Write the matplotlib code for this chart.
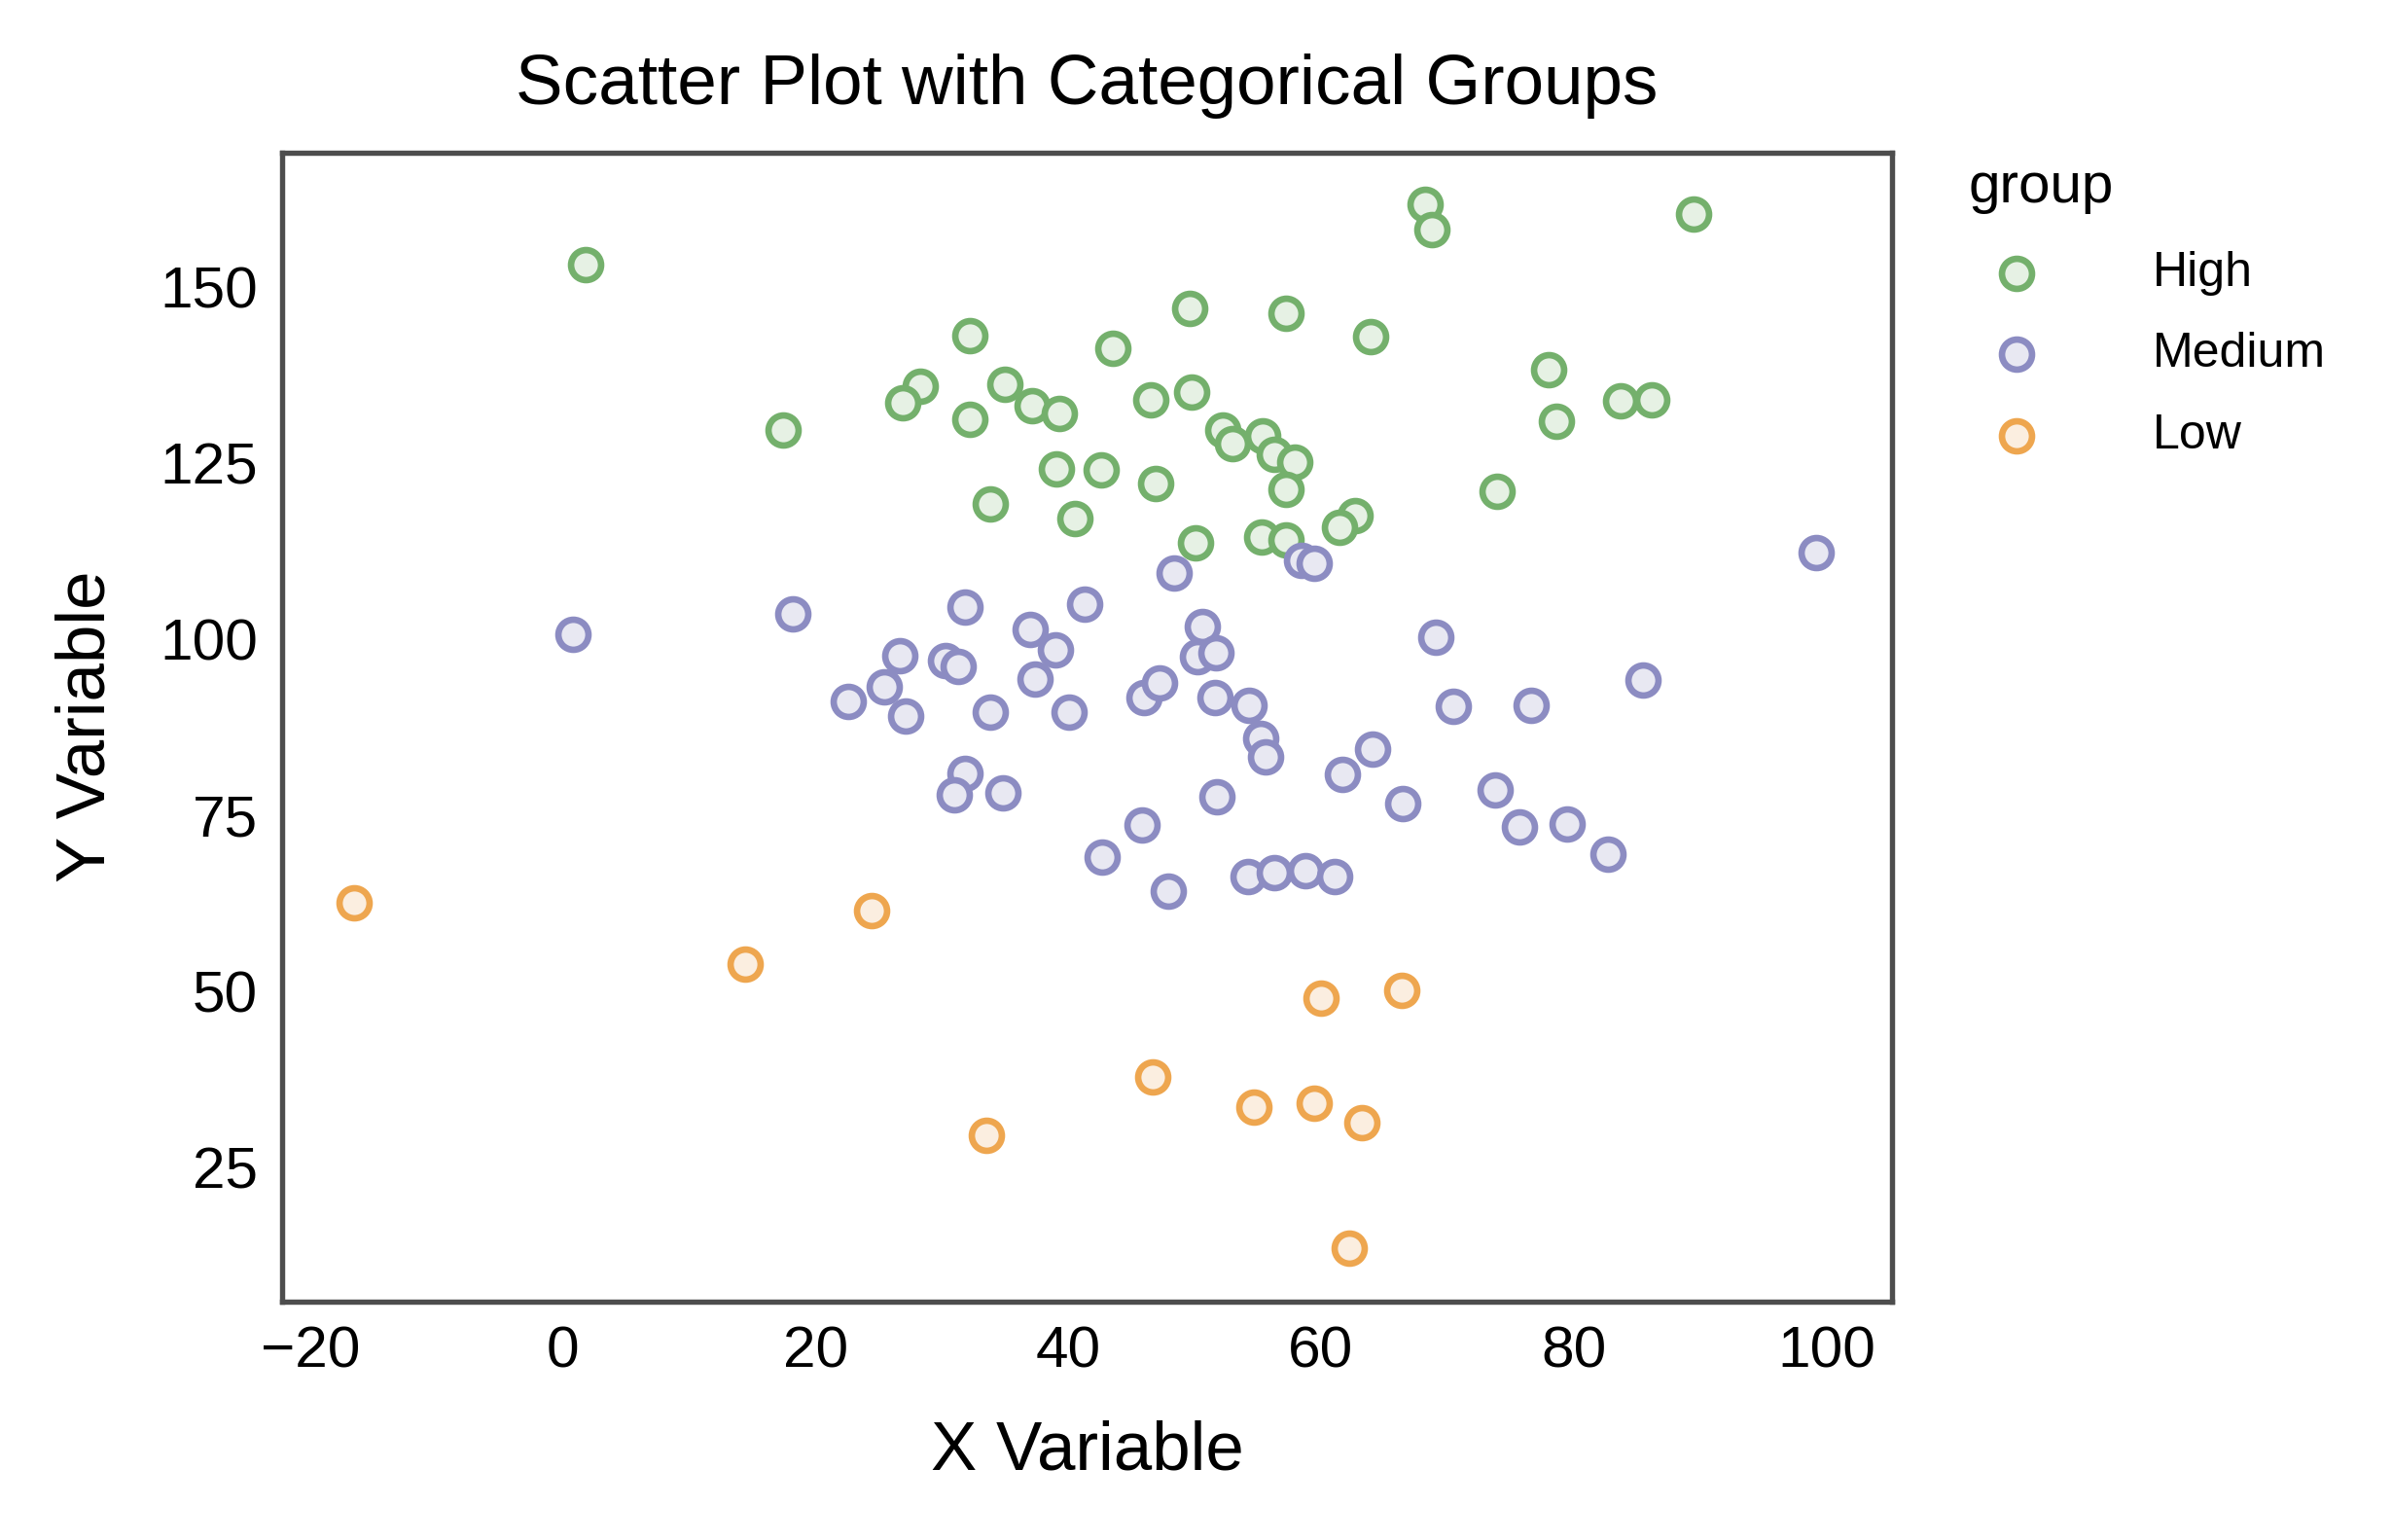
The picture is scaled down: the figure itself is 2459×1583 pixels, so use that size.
import matplotlib
matplotlib.use("Agg")
import matplotlib.pyplot as plt

plt.rcParams.update({"font.family": ["Liberation Sans", "DejaVu Sans"], "font.size": 13})

high_x = [1.8, 68.2, 68.8, 89.5, 49.6, 57.2, 32.2, 63.9, 43.5, 28.3, 35.0, 26.9, 37.1, 39.3,
          46.5, 49.8, 32.2, 78.0, 78.6, 83.7, 86.2, 17.4, 52.2, 53.0, 55.4, 56.3, 57.9, 39.1,
          42.6, 46.9, 57.2, 73.9, 33.8, 40.5, 62.7, 61.5, 55.3, 57.2, 50.1]
high_y = [153.2, 161.7, 158.2, 160.4, 147.0, 146.3, 143.1, 142.9, 141.3, 135.9, 136.1, 133.5,
          133.1, 132.0, 134.0, 135.1, 131.2, 138.3, 130.9, 133.8, 134.0, 129.6, 129.6, 127.7,
          128.8, 126.2, 125.1, 124.2, 124.0, 122.1, 121.2, 121.0, 119.2, 117.1, 117.5, 115.8,
          114.5, 114.0, 113.6]
med_x = [0.8, 18.2, 31.8, 41.3, 48.4, 58.5, 59.5, 99.2, 26.7, 30.3, 31.3, 37.0, 39.0, 37.4,
         50.6, 50.2, 51.7, 69.1, 25.4, 22.6, 27.1, 33.8, 40.1, 46.0, 47.2, 51.6, 54.3, 55.2,
         55.6, 70.5, 76.6, 85.5, 64.1, 31.8, 31.0, 34.8, 51.8, 61.7, 66.5, 73.8, 75.7, 79.5,
         45.8, 42.7, 47.9, 54.2, 56.3, 58.8, 61.1, 82.7]
med_y = [100.6, 103.6, 104.5, 104.9, 109.3, 111.2, 110.8, 112.3, 97.6, 96.9, 96.1, 101.3,
         98.4, 94.3, 101.7, 97.4, 98.0, 100.2, 93.2, 91.1, 89.1, 89.6, 89.6, 91.7, 93.7, 91.7,
         90.6, 85.9, 83.3, 90.4, 90.6, 94.1, 84.4, 80.9, 77.9, 78.1, 77.6, 80.7, 76.6, 78.5,
         73.3, 73.7, 73.5, 69.0, 64.2, 66.2, 66.8, 67.0, 66.2, 69.4]
low_x = [-16.5, 14.4, 24.4, 60.0, 66.4, 46.7, 54.7, 59.5, 63.2, 33.5, 62.2]
low_y = [62.5, 53.8, 61.4, 49.0, 50.1, 37.8, 33.5, 34.1, 31.3, 29.5, 13.5]

groups = [("High", high_x, high_y, "#74b06c", "#e6f1e4"),
          ("Medium", med_x, med_y, "#8c8cc2", "#e8e8f2"),
          ("Low", low_x, low_y, "#eea64f", "#fbeee0")]

fig = plt.figure(figsize=(8.197, 5.277), dpi=300)
ax = fig.add_axes([0.118, 0.155, 0.673, 0.746])
for name, xs, ys, ec, fc in groups:
    ax.scatter(xs, ys, s=55, facecolor=fc, edgecolor=ec, linewidth=1.6, label=name, zorder=3)

ax.set_xlim(-22.2, 105.2)
ax.set_ylim(5.9, 169.1)
ax.set_xticks([-20, 0, 20, 40, 60, 80, 100])
ax.set_yticks([25, 50, 75, 100, 125, 150])
ax.tick_params(length=0, labelsize=14.5, pad=6)
for s in ax.spines.values():
    s.set_color("#4d4d4d")
    s.set_linewidth(1.3)
ax.set_xlabel("X Variable", fontsize=17, labelpad=10)
ax.set_ylabel("Y Variable", fontsize=17, labelpad=10)
ax.set_title("Scatter Plot with Categorical Groups", fontsize=17.5, pad=12)
leg = ax.legend(title="group", loc="upper left", bbox_to_anchor=(1.02, 1.03), frameon=False,
                fontsize=12, title_fontsize=14, alignment="left", handletextpad=1.8,
                labelspacing=0.75)
fig.savefig("out.png", dpi=300)
